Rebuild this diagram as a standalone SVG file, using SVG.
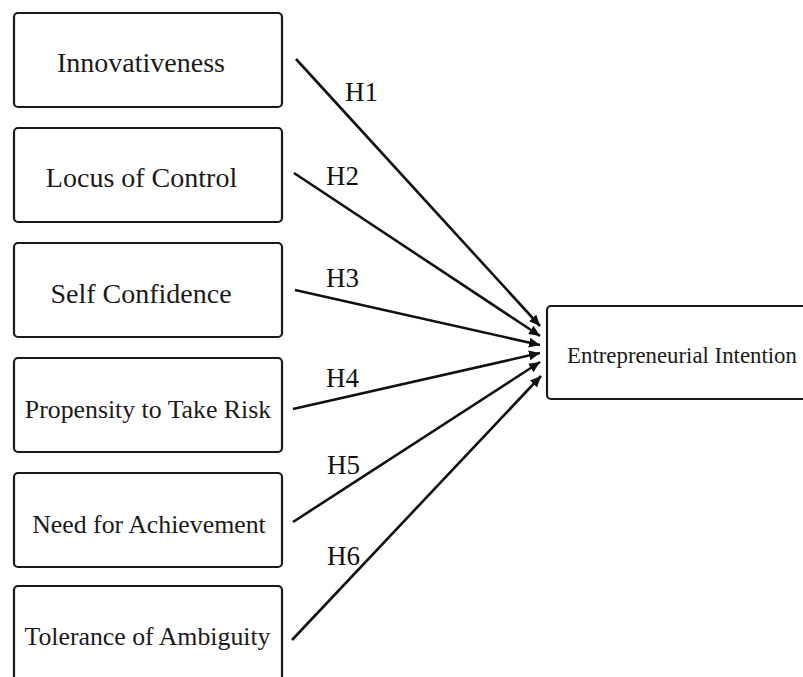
<svg xmlns="http://www.w3.org/2000/svg" width="803" height="677" viewBox="0 0 803 677">
<defs>
<style>
.box{fill:#fff;stroke:#1a1a1a;stroke-width:2.2}
.t{font-family:"Liberation Serif","Times New Roman",serif;fill:#1a1a1a;text-anchor:middle}
.big{font-size:28px}
.small{font-size:25.8px}
.ei{font-size:22.8px}
.h{font-family:"Liberation Serif","Times New Roman",serif;fill:#111;font-size:27px}
.c{stroke:#111;stroke-width:2.6;fill:none;marker-end:url(#ah)}
</style>
<marker id="ah" markerUnits="userSpaceOnUse" markerWidth="12" markerHeight="10" refX="11" refY="5" orient="auto">
<path d="M0,0 L11,5 L0,10 z" fill="#111"/>
</marker>
</defs>
<rect width="803" height="677" fill="#fff"/>
<g id="n1"><rect class="box" x="14" y="13" width="268" height="94" rx="4"/><text class="t big" x="141" y="72">Innovativeness</text></g>
<g id="n2"><rect class="box" x="14" y="128" width="268" height="94" rx="4"/><text class="t big" x="141.5" y="187">Locus of Control</text></g>
<g id="n3"><rect class="box" x="14" y="243" width="268" height="94" rx="4"/><text class="t big" x="141" y="303">Self Confidence</text></g>
<g id="n4"><rect class="box" x="14" y="358" width="268" height="94" rx="4"/><text class="t small" x="148" y="418">Propensity to Take Risk</text></g>
<g id="n5"><rect class="box" x="14" y="473" width="268" height="94" rx="4"/><text class="t small" x="149" y="533">Need for Achievement</text></g>
<g id="n6"><rect class="box" x="14" y="586" width="268" height="96" rx="4"/><text class="t small" x="147.5" y="645">Tolerance of Ambiguity</text></g>
<g id="ei"><rect class="box" x="547" y="306" width="262" height="93" rx="4"/><text class="t ei" x="682" y="363">Entrepreneurial Intention</text></g>
<g id="connectors">
<line class="c" x1="296" y1="59" x2="540" y2="326"/>
<line class="c" x1="294" y1="173" x2="540" y2="336"/>
<line class="c" x1="295" y1="290" x2="540" y2="345"/>
<line class="c" x1="293" y1="409" x2="540" y2="353"/>
<line class="c" x1="293" y1="522" x2="540" y2="362"/>
<line class="c" x1="292" y1="640" x2="541" y2="376"/>
<text class="h" x="345" y="101">H1</text>
<text class="h" x="326" y="185">H2</text>
<text class="h" x="326" y="287">H3</text>
<text class="h" x="326" y="387">H4</text>
<text class="h" x="327" y="474">H5</text>
<text class="h" x="327" y="565">H6</text>
</g>
</svg>
